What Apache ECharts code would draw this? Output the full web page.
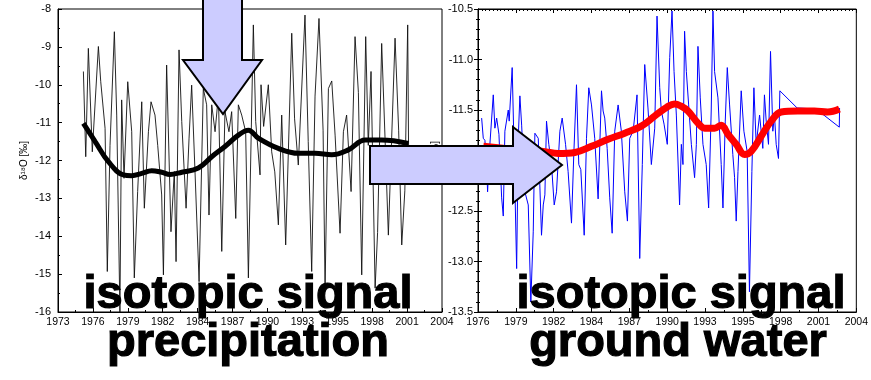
<!DOCTYPE html>
<html>
<head>
<meta charset="utf-8">
<script src="https://cdn.jsdelivr.net/npm/echarts@6/dist/echarts.min.js"></script>
<style>
  html, body { margin: 0; padding: 0; background: #fff; }
  #chart { width: 871px; height: 380px; }
</style>
</head>
<body>
<div id="chart"></div>
<script>
// tick labels of the two time axes
const leftTicks = ['1973', '1976', '1979', '1982', '1984', '1987', '1990', '1993', '1995', '1998', '2001', '2004'];
const rightTicks = ['1976', '1979', '1982', '1984', '1987', '1990', '1993', '1995', '1998', '2001', '2004'];

// precipitation d18O [year, permil]
const precip = [
  [1975.05, -9.65], [1975.24, -11.9], [1975.45, -9.04], [1975.77, -11.77], [1976.26, -8.99], [1976.45, -9.92],
  [1976.8, -11.15], [1976.98, -14.93], [1977.2, -11.6], [1977.55, -8.6], [1977.74, -10.8], [1978.0, -16.0],
  [1978.14, -10.4], [1978.33, -12.47], [1978.63, -9.92], [1978.95, -11.24], [1979.16, -15.1], [1979.43, -12.82],
  [1979.76, -10.45], [1979.97, -13.26], [1980.3, -11.24], [1980.51, -10.45], [1980.83, -10.8], [1981.05, -11.6],
  [1981.37, -12.91], [1981.51, -15.02], [1981.77, -9.48], [1982.12, -13.88], [1982.39, -12.29], [1982.53, -14.67],
  [1982.77, -9.08], [1982.99, -10.97], [1983.34, -13.26], [1983.58, -11.41], [1983.79, -10.01], [1984.06, -12.29],
  [1984.39, -15.2], [1984.73, -10.1], [1985.0, -10.53], [1985.19, -13.44], [1985.41, -10.53], [1985.68, -11.24],
  [1985.95, -10.27], [1986.22, -14.4], [1986.48, -10.71], [1986.8, -11.24], [1987.02, -10.71], [1987.35, -13.53],
  [1987.56, -10.53], [1987.83, -10.8], [1988.15, -11.24], [1988.37, -15.1], [1988.77, -8.42], [1988.96, -10.97],
  [1989.31, -12.38], [1989.39, -10.0], [1989.6, -11.1], [1989.98, -10.0], [1990.25, -11.77], [1990.5, -12.3],
  [1990.79, -13.7], [1991.06, -10.8], [1991.38, -14.23], [1991.87, -8.64], [1992.1, -10.9], [1992.4, -12.12],
  [1992.94, -8.16], [1993.2, -11.5], [1993.48, -14.93], [1993.75, -10.3], [1994.07, -8.25], [1994.4, -11.2],
  [1994.56, -15.37], [1994.83, -10.1], [1995.1, -9.9], [1995.37, -11.33], [1995.77, -13.92], [1996.04, -11.24],
  [1996.3, -10.8], [1996.66, -12.82], [1996.98, -8.73], [1997.25, -10.2], [1997.52, -15.02], [1997.84, -8.73],
  [1998.05, -11.6], [1998.27, -9.65], [1998.6, -15.37], [1998.8, -13.9], [1999.13, -8.91], [1999.4, -11.4],
  [1999.67, -13.97], [2000.21, -8.77], [2000.5, -11.2], [2000.75, -14.23], [2001.0, -12.8], [2001.23, -8.42],
  [2001.3, -11.6]
];

// smoothed precipitation signal
const precipTrend = [
  [1975.05, -11.02], [1976.0, -11.5], [1977.07, -12.03], [1978.28, -12.38], [1978.95, -12.4], [1979.76, -12.34],
  [1980.56, -12.27], [1981.37, -12.31], [1982.04, -12.37], [1982.99, -12.31], [1984.33, -12.2], [1985.41, -11.9],
  [1986.48, -11.63], [1987.56, -11.33], [1988.37, -11.2], [1989.18, -11.41], [1990.79, -11.68], [1992.4, -11.81],
  [1993.75, -11.81], [1995.1, -11.85], [1996.44, -11.72], [1997.79, -11.46], [1999.13, -11.46], [2001.29, -11.55]
];

// ground water d18O [year, permil]
const ground = [
  [1976.27, -11.58], [1976.39, -11.78], [1976.51, -11.8], [1976.64, -12.04], [1976.71, -12.31], [1976.88, -11.84],
  [1977.13, -11.35], [1977.25, -11.68], [1977.38, -11.58], [1977.55, -11.74], [1977.75, -12.37], [1977.87, -12.55],
  [1977.99, -11.71], [1978.24, -11.5], [1978.31, -11.61], [1978.53, -11.08], [1978.68, -11.94], [1978.86, -13.07],
  [1978.98, -11.78], [1979.1, -11.36], [1979.23, -11.65], [1979.47, -12.31], [1979.72, -12.44], [1979.91, -13.4],
  [1980.09, -12.7], [1980.21, -11.73], [1980.46, -11.78], [1980.7, -12.74], [1980.83, -12.44], [1980.95, -12.34],
  [1981.07, -11.61], [1981.24, -11.84], [1981.44, -12.04], [1981.64, -12.44], [1981.81, -12.31], [1982.06, -11.71],
  [1982.23, -11.58], [1982.48, -11.84], [1982.67, -12.11], [1982.92, -12.62], [1983.09, -11.94], [1983.29, -11.25],
  [1983.46, -12.04], [1983.61, -12.09], [1983.86, -12.74], [1984.03, -11.78], [1984.2, -11.28], [1984.4, -11.45],
  [1984.64, -11.78], [1984.89, -12.38], [1985.14, -11.31], [1985.26, -11.51], [1985.38, -11.58], [1985.56, -11.88],
  [1985.75, -12.37], [1985.93, -12.72], [1986.12, -11.71], [1986.37, -11.45], [1986.61, -11.71], [1986.86, -12.31],
  [1987.06, -12.6], [1987.23, -11.78], [1987.48, -11.71], [1987.77, -11.35], [1987.97, -12.97], [1988.16, -12.04],
  [1988.34, -11.05], [1988.58, -11.48], [1988.83, -12.04], [1989.08, -11.68], [1989.25, -10.57], [1989.45, -11.28],
  [1989.57, -11.51], [1989.77, -11.64], [1990.01, -11.84], [1990.19, -10.98], [1990.36, -10.52], [1990.51, -11.12],
  [1990.68, -11.55], [1990.92, -12.44], [1991.05, -11.84], [1991.17, -12.04], [1991.29, -10.72], [1991.42, -11.12],
  [1991.59, -11.45], [1991.79, -11.84], [1992.03, -12.17], [1992.16, -11.84], [1992.28, -10.87], [1992.45, -11.38],
  [1992.65, -11.84], [1992.89, -12.04], [1993.07, -12.47], [1993.26, -11.51], [1993.39, -10.52], [1993.51, -11.12],
  [1993.76, -11.38], [1994.0, -12.04], [1994.13, -12.47], [1994.3, -11.61], [1994.45, -11.08], [1994.62, -11.45],
  [1994.86, -11.94], [1994.99, -12.17], [1995.11, -12.6], [1995.24, -12.11], [1995.48, -11.31], [1995.68, -11.71],
  [1995.92, -11.91], [1996.09, -13.3], [1996.27, -12.11], [1996.42, -11.28], [1996.59, -11.84], [1996.84, -11.55],
  [1997.08, -11.88], [1997.2, -11.35], [1997.33, -11.61], [1997.5, -11.84], [1997.65, -10.92], [1997.82, -11.71],
  [1997.94, -11.55], [1998.07, -11.84], [1998.24, -11.98], [1998.34, -11.31], [1999.62, -11.48], [2001.02, -11.49],
  [2002.74, -11.67], [2002.76, -11.48]
];

// smoothed ground water signal
const groundTrend = [
  [1976.4, -11.86], [1978.0, -11.88], [1979.5, -11.9], [1980.83, -11.91], [1981.94, -11.93], [1983.17, -11.92],
  [1984.4, -11.86], [1985.63, -11.79], [1986.86, -11.73], [1988.09, -11.66], [1989.08, -11.56], [1990.0, -11.47],
  [1990.55, -11.44], [1991.0, -11.46], [1991.54, -11.51], [1992.28, -11.63], [1992.77, -11.68], [1993.51, -11.68],
  [1994.0, -11.65], [1994.5, -11.74], [1995.11, -11.84], [1995.73, -11.94], [1996.22, -11.91], [1996.96, -11.76],
  [1997.7, -11.61], [1998.44, -11.52], [1999.67, -11.51], [2000.9, -11.51], [2001.88, -11.52], [2002.75, -11.49]
];

const FONT = '"Liberation Sans", Arial, sans-serif';
const yName = 'δ¹⁸O [‰]';

const chart = echarts.init(document.getElementById('chart'), null, { renderer: 'canvas' });

const line = { lineStyle: { color: '#000', width: 1 } };
const tickAxis = (grid, max, labels, pos, minorSplit, showLabel) => ({
  gridIndex: grid,
  type: 'value',
  min: 0,
  max: max,
  interval: 1,
  position: pos,
  axisLine: line,
  axisTick: { inside: true, length: 4, lineStyle: { color: '#000' } },
  minorTick: { show: true, splitNumber: minorSplit, length: 2, lineStyle: { color: '#000' } },
  splitLine: { show: false },
  axisLabel: {
    show: showLabel,
    margin: 5,
    color: '#000',
    fontSize: 10.5,
    fontFamily: FONT,
    formatter: v => labels[v]
  }
});

// big caption text, drawn over the plots
const caption = (text, x, y) => ({
  type: 'text', z: 110, x: x, y: y,
  style: {
    text: text, fill: '#000', stroke: '#000', lineWidth: 1.2,
    fontSize: 47, fontWeight: 'bold', fontFamily: FONT,
    textAlign: 'center', textVerticalAlign: 'middle'
  }
});

const option = {
  animation: false,
  backgroundColor: '#fff',
  grid: [
    { left: 58, top: 9, width: 384, height: 303, show: true, borderColor: '#000', borderWidth: 1 },
    { left: 478, top: 9, width: 379, height: 303, show: true, borderColor: '#000', borderWidth: 1 }
  ],
  xAxis: [
    { gridIndex: 0, type: 'value', min: 1973, max: 2004, show: false },
    tickAxis(0, 11, leftTicks, 'bottom', 2, true),
    { gridIndex: 1, type: 'value', min: 1976, max: 2004, show: false },
    tickAxis(1, 10, rightTicks, 'bottom', 2, true),
    tickAxis(1, 10, rightTicks, 'top', 10, false)
  ],
  yAxis: [
    {
      gridIndex: 0, type: 'value', min: -16, max: -8, interval: 1,
      name: yName, nameLocation: 'middle', nameRotate: 90, nameGap: 29,
      nameTextStyle: { color: '#000', fontSize: 10, fontFamily: FONT },
      axisLine: line,
      axisTick: { inside: true, length: 4, lineStyle: { color: '#000' } },
      minorTick: { show: true, splitNumber: 2, length: 2, lineStyle: { color: '#000' } },
      splitLine: { show: false },
      axisLabel: { margin: 7, color: '#000', fontSize: 11, fontFamily: FONT }
    },
    {
      gridIndex: 1, type: 'value', min: -13.5, max: -10.5, interval: 0.5,
      name: yName, nameLocation: 'middle', nameRotate: 90, nameGap: 38,
      nameTextStyle: { color: '#000', fontSize: 10, fontFamily: FONT },
      axisLine: line,
      axisTick: { inside: true, length: 4, lineStyle: { color: '#000' } },
      minorTick: { show: true, splitNumber: 5, length: 2, lineStyle: { color: '#000' } },
      splitLine: { show: false },
      axisLabel: { margin: 5, color: '#000', fontSize: 11, fontFamily: FONT, formatter: v => v.toFixed(1) }
    },
    {
      gridIndex: 1, type: 'value', min: -13.5, max: -10.5, interval: 0.5, position: 'right',
      axisLine: line,
      axisTick: { inside: true, length: 4, lineStyle: { color: '#000' } },
      minorTick: { show: true, splitNumber: 5, length: 2, lineStyle: { color: '#000' } },
      splitLine: { show: false },
      axisLabel: { show: false }
    }
  ],
  series: [
    {
      type: 'line', xAxisIndex: 0, yAxisIndex: 0, data: precip, symbol: 'none',
      lineStyle: { color: '#111', width: 0.9 }, z: 2
    },
    {
      type: 'line', xAxisIndex: 0, yAxisIndex: 0, data: precipTrend, symbol: 'none', smooth: 0.4,
      lineStyle: { color: '#000', width: 5 }, z: 3
    },
    {
      type: 'line', xAxisIndex: 2, yAxisIndex: 1, data: ground, symbol: 'none',
      lineStyle: { color: '#0000ff', width: 1 }, z: 2
    },
    {
      type: 'line', xAxisIndex: 2, yAxisIndex: 1, data: groundTrend, symbol: 'none', smooth: 0.4,
      lineStyle: { color: '#ff0000', width: 7 }, z: 3
    }
  ],
  graphic: [
    {
      type: 'polygon', z: 100,
      shape: { points: [[203, -3], [242, -3], [242, 60], [262, 60], [223, 114], [183, 60], [203, 60]] },
      style: { fill: '#ccccff', stroke: '#000', lineWidth: 2 }
    },
    {
      type: 'polygon', z: 100,
      shape: { points: [[370, 146], [513, 146], [513, 127], [562, 165], [513, 203], [513, 184], [370, 184]] },
      style: { fill: '#ccccff', stroke: '#000', lineWidth: 2 }
    },
    caption('isotopic signal', 248, 295),
    caption('precipitation', 248, 343),
    caption('isotopic signal', 681, 295),
    caption('ground water', 678, 343)
  ]
};

chart.setOption(option);
</script>
</body>
</html>
